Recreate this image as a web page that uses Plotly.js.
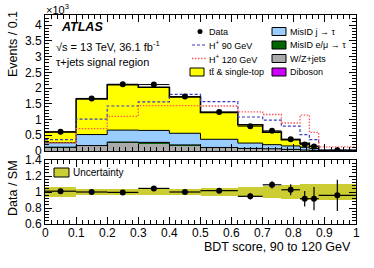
<!DOCTYPE html>
<html>
<head>
<meta charset="utf-8">
<script src="https://cdn.plot.ly/plotly-3.0.1.min.js"></script>
<style>html,body{margin:0;padding:0;background:#fff;}#chart{width:374px;height:268px;}</style>
</head>
<body>
<div id="chart"></div>
<script>
// ---- data (Events in units of 10^3) ----
const binEdges = [0, 0.1, 0.2, 0.3, 0.4, 0.5, 0.62, 0.7, 0.76, 0.82, 0.85, 0.88, 1.0];
const wzJets   = [0.10, 0.15, 0.24, 0.23, 0.16, 0.10, 0.07, 0.06, 0.04, 0.025, 0.015, 0.004];
const misidLep = [0.02, 0.02, 0.04, 0.04, 0.03, 0.01, 0.01, 0.01, 0.01, 0.005, 0.005, 0.001];
const diboson  = [0.002, 0.003, 0.004, 0.004, 0.003, 0.002, 0.002, 0.001, 0.001, 0.001, 0.001, 0.0005];
const misidJet = [0.14, 0.35, 0.38, 0.38, 0.37, 0.26, 0.17, 0.13, 0.11, 0.09, 0.06, 0.005];
const ttbar    = [0.34, 1.13, 1.44, 1.37, 1.15, 0.85, 0.58, 0.40, 0.20, 0.12, 0.07, 0.01];
const hp90     = [0.36, 1.01, 1.43, 1.56, 1.80, 1.57, 1.08, 0.98, 0.79, 0.52, 0.36, 0.03];
const hp120    = [0.26, 0.71, 1.10, 1.44, 1.44, 1.43, 1.24, 1.16, 0.89, 1.14, 0.59, 0.13];
const dataVals = [0.61, 1.67, 2.12, 2.11, 1.73, 1.24, 0.79, 0.64, 0.37, 0.21, 0.14, 0.02];
const dataErr  = [0.025, 0.04, 0.046, 0.046, 0.042, 0.035, 0.028, 0.025, 0.019, 0.014, 0.012, 0.004];
const ratioVals = [1.01, 1.0, 0.995, 1.045, 1.0, 1.016, 0.946, 1.09, 1.028, 0.917, 0.917, 0.958];
const ratioErr  = [0.03, 0.02, 0.02, 0.02, 0.02, 0.02, 0.04, 0.045, 0.07, 0.097, 0.146, 0.195];
const uncErr    = [0.06, 0.04, 0.04, 0.04, 0.04, 0.05, 0.06, 0.07, 0.085, 0.1, 0.1, 0.1];
const xTickVals = [0, 0.1, 0.2, 0.3, 0.4, 0.5, 0.6, 0.7, 0.8, 0.9, 1];
const xTickText = ['0', '0.1', '0.2', '0.3', '0.4', '0.5', '0.6', '0.7', '0.8', '0.9', '1'];

// ---- derived bin geometry ----
const centers = binEdges.slice(0, -1).map((e, i) => (e + binEdges[i + 1]) / 2);
const widths  = binEdges.slice(0, -1).map((e, i) => binEdges[i + 1] - e);
const halfW   = widths.map(w => w / 2);
function cumul(arrs) { return arrs[0].map((_, i) => arrs.reduce((s, a) => s + a[i], 0)); }
const topGrey  = cumul([wzJets, misidLep, diboson]);
const topBlue  = cumul([wzJets, misidLep, diboson, misidJet]);
const topTotal = cumul([wzJets, misidLep, diboson, misidJet, ttbar]);
function stepY(v) { return v.concat([v[v.length - 1]]); }

// ---- pixel helpers for layout decorations ----
const L = 45, R = 356, T = 15, B = 224;
const px = p => (p - L) / (R - L);
const py = p => (B - p) / (B - T);

const FONT = 'Liberation Sans, Arial, Helvetica, sans-serif';
const COL = {tt: '#ffff00', jet: '#99ccff', lep: '#006600', wz: '#aaaaaa', vv: '#cc00ff',
             h90: '#3a3acc', h120: '#ff5a5a', unc: '#cccc33'};
const DASH90 = '3px,2px', DOT120 = '1.5px,1.5px';

function barTrace(name, vals, color, base) {
  return {type: 'bar', name: name, x: centers, y: vals, base: base, width: widths, marker: {color: color, line: {width: 0}},
          xaxis: 'x', yaxis: 'y', hoverinfo: 'skip', showlegend: false};
}
function stepTrace(vals, color, w, dash) {
  return {type: 'scatter', mode: 'lines', x: binEdges, y: stepY(vals), line: {shape: 'hv', color: color, width: w, dash: dash || 'solid'},
          xaxis: 'x', yaxis: 'y', showlegend: false, hoverinfo: 'skip'};
}

const traces = [
  barTrace('W/Z+jets', wzJets, COL.wz, 0),
  barTrace('MisID e/mu', misidLep, COL.lep, wzJets),
  barTrace('Diboson', diboson, COL.vv, cumul([wzJets, misidLep])),
  barTrace('MisID j', misidJet, COL.jet, topGrey),
  barTrace('ttbar', ttbar, COL.tt, topBlue),
  stepTrace(topGrey, '#000', 1),
  stepTrace(topBlue, '#000', 1),
  stepTrace(topTotal, '#000', 1.6),
  stepTrace(hp90, COL.h90, 1.2, DASH90),
  stepTrace(hp120, COL.h120, 1.3, DOT120),
  {type: 'scatter', mode: 'markers', x: centers, y: dataVals, xaxis: 'x', yaxis: 'y', showlegend: false,
   marker: {color: '#000', size: 6},
   error_y: {type: 'data', array: dataErr, color: '#000', thickness: 1, width: 0},
   error_x: {type: 'data', array: halfW, color: '#000', thickness: 1, width: 0}},
  // ratio panel
  {type: 'bar', x: centers, y: uncErr.map(e => 2 * e), base: uncErr.map(e => 1 - e), width: widths,
   marker: {color: COL.unc, line: {width: 0}}, xaxis: 'x2', yaxis: 'y2', showlegend: false, hoverinfo: 'skip'},
  {type: 'scatter', mode: 'markers', x: centers, y: ratioVals, xaxis: 'x2', yaxis: 'y2', showlegend: false,
   marker: {color: '#000', size: 6},
   error_y: {type: 'data', array: ratioErr, color: '#000', thickness: 1.2, width: 0},
   error_x: {type: 'data', array: halfW, color: '#000', thickness: 1.2, width: 0}}
];

const axisCommon = {showgrid: false, zeroline: false, showline: true, linecolor: '#000', linewidth: 1,
  mirror: 'allticks', ticks: 'inside', tickcolor: '#000', ticklen: 7, tickwidth: 1,
  tickfont: {family: FONT, size: 12, color: '#000'}};

const shapes = [], annotations = [];
function txt(x, y, text, size, extra) {
  annotations.push(Object.assign({xref: 'paper', yref: 'paper', x: px(x), y: py(y), text: text, showarrow: false,
    xanchor: 'left', yanchor: 'middle', font: {family: FONT, size: size, color: '#000'}}, extra || {}));
}
function box(x0, y0, x1, y1, color) {
  shapes.push({type: 'rect', xref: 'paper', yref: 'paper', x0: px(x0), x1: px(x1), y0: py(y1), y1: py(y0),
    fillcolor: color, line: {color: '#000', width: 1}});
}
function hline(x0, x1, y, color, dash, w) {
  shapes.push({type: 'line', xref: 'paper', yref: 'paper', x0: px(x0), x1: px(x1), y0: py(y), y1: py(y),
    line: {color: color, width: w, dash: dash}});
}

// x tick labels of the ratio panel, placed on the x2 scale
xTickVals.forEach((v, i) => {
  annotations.push({xref: 'x2', yref: 'paper', x: v, y: py(233), text: xTickText[i], showarrow: false,
    xanchor: 'center', yanchor: 'middle', font: {family: FONT, size: 12, color: '#000'}});
});

// texts
txt(44, 9, '×10<sup>3</sup>', 11);
txt(59, 27, '<b><i>ATLAS</i></b>', 12.5);
txt(54, 45.5, '√s = 13 TeV, 36.1 fb<sup>-1</sup>', 11);
txt(54, 62, 'τ+jets signal region', 11);
txt(13, 44, 'Events / 0.1', 12.5, {xanchor: 'center', textangle: -90});
txt(13, 188, 'Data / SM', 12.5, {xanchor: 'center', textangle: -90});
txt(353, 247, 'BDT score, 90 to 120 GeV', 12.5, {xanchor: 'right'});

// legend left column
const rows = [31.5, 45, 58.5, 72];
shapes.push({type: 'circle', xref: 'paper', yref: 'paper', x0: px(197.5), x1: px(202.5), y0: py(rows[0] + 2.5), y1: py(rows[0] - 2.5),
  fillcolor: '#000', line: {color: '#000', width: 0}});
txt(207, rows[0], 'Data', 9);
hline(192, 206, rows[1], COL.h90, DASH90, 1.2);
txt(207, rows[1], 'H<sup>+</sup> 90 GeV', 9);
hline(192, 206, rows[2], COL.h120, DOT120, 1.3);
txt(207, rows[2], 'H<sup>+</sup> 120 GeV', 9);
box(190, rows[3] - 4, 204, rows[3] + 4, COL.tt);
txt(207, rows[3], 'tt\u0304 & single-top', 9);
// legend right column
const rightItems = [['MisID j → τ', COL.jet], ['MisID e/μ → τ', COL.lep], ['W/Z+jets', COL.wz], ['Diboson', COL.vv]];
rightItems.forEach((it, i) => { box(272, rows[i] - 4, 286, rows[i] + 4, it[1]); txt(288, rows[i], it[0], 9); });
// ratio legend
box(54, 168, 69, 177, COL.unc);
txt(71, 172.5, 'Uncertainty', 10);

const minorX = {dtick: 0.02, ticks: 'inside', ticklen: 4, tickcolor: '#000'};
const layout = {
  width: 374, height: 268, margin: {l: L, r: 374 - R, t: T, b: 268 - B},
  paper_bgcolor: '#fff', plot_bgcolor: '#fff', barmode: 'overlay', bargap: 0, showlegend: false,
  font: {family: FONT, size: 12, color: '#000'},
  xaxis: Object.assign({}, axisCommon, {range: [0, 1], domain: [0, 1], anchor: 'y', showticklabels: false,
    tickvals: xTickVals, minor: minorX}),
  yaxis: Object.assign({}, axisCommon, {range: [0, 4.32], domain: [py(151), 1], anchor: 'x', dtick: 0.5, tick0: 0,
    minor: {dtick: 0.1, ticks: 'inside', ticklen: 4, tickcolor: '#000'}}),
  xaxis2: Object.assign({}, axisCommon, {range: [0, 1], domain: [0, 1], anchor: 'y2', tickvals: xTickVals,
    showticklabels: false, minor: minorX}),
  yaxis2: Object.assign({}, axisCommon, {range: [0.6, 1.4], domain: [0, py(160)], anchor: 'x2', dtick: 0.2, tick0: 0.6,
    minor: {dtick: 0.04, ticks: 'inside', ticklen: 4, tickcolor: '#000'}}),
  shapes: shapes, annotations: annotations
};

Plotly.newPlot('chart', traces, layout, {staticPlot: true, displayModeBar: false});
</script>
</body>
</html>
